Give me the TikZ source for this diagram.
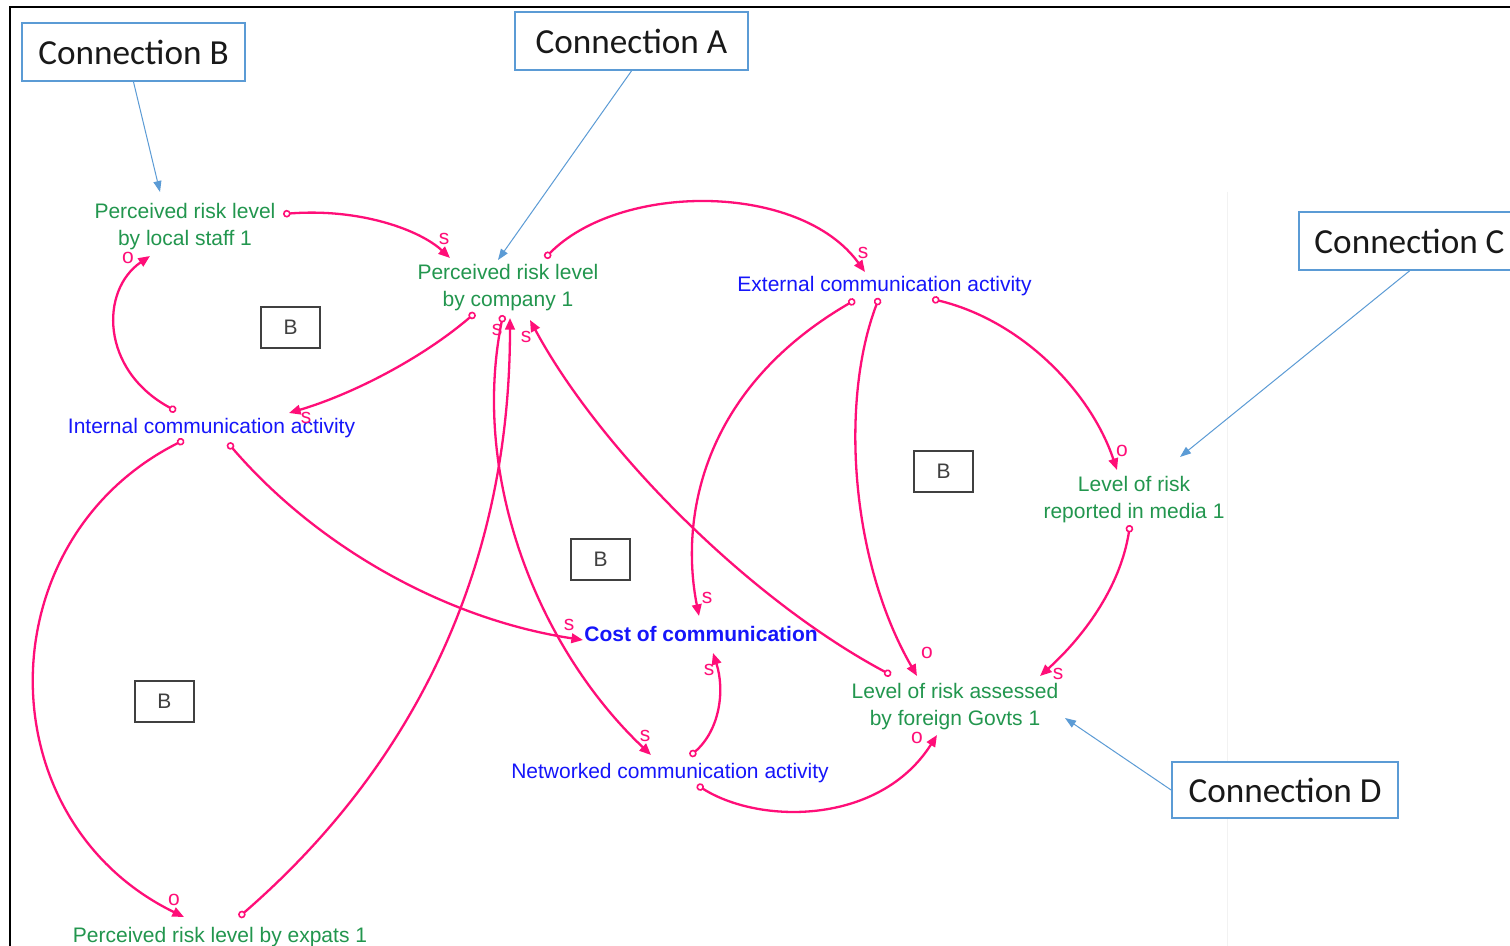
\documentclass[tikz,border=0pt]{standalone}
\usepackage{fontspec}
\setmainfont{Liberation Sans}
\newfontfamily\calfont{Carlito}
\usetikzlibrary{arrows.meta}
\definecolor{vgreen}{RGB}{34,150,78}
\definecolor{vblue}{RGB}{22,22,250}
\definecolor{lpink}{RGB}{255,14,120}
\definecolor{cblue}{RGB}{91,155,213}
\definecolor{bgray}{RGB}{64,64,64}
\begin{document}
\begin{tikzpicture}[x=0.5pt,y=-0.5pt,
  every node/.style={inner sep=0pt,font=\fontsize{10.5}{13.5}\selectfont},
  stock/.style={text=vgreen,align=center},
  actv/.style={text=vblue,anchor=base},
  pol/.style={text=lpink,font=\fontsize{10.5}{12}\selectfont},
  link/.style={draw=lpink,line width=1.15pt,
    {Circle[open,length=3.8pt,line width=0.8pt]}-{Triangle[length=5.8pt,width=4.8pt]}},
  conn/.style={draw=cblue,line width=0.9pt,fill=white,
    font=\calfont\fontsize{17.6}{20}\selectfont,text=black!90},
  callout/.style={draw=cblue,line width=0.5pt,-{Triangle[length=5.5pt,width=4pt]}},
  loopbox/.style={draw=bgray,line width=0.6pt,minimum width=29.5pt,
    minimum height=20.5pt,text=bgray}]

% canvas and frame
\fill[white] (0,0) rectangle (1510,946);
\clip (0,0) rectangle (1510,946);
\draw[black!5,line width=0.5pt] (1227,192) -- (1227,946);
\draw[black,line width=1pt] (9.5,946) -- (9.5,7) -- (1510,7);

% variables
\node[stock] (staff) at (185,227) {Perceived risk level\\by local staff 1};
\node[stock] (company) at (508,288) {Perceived risk level\\by company 1};
\node[stock] (media) at (1134,500) {Level of risk\\reported in media 1};
\node[stock] (govts) at (955,707) {Level of risk assessed\\by foreign Govts 1};
\node[stock,anchor=base] (expats) at (220,942) {Perceived risk level by expats 1};
\node[actv] (ext) at (884.5,292) {External communication activity};
\node[actv] (int) at (211.5,434) {Internal communication activity};
\node[actv,font=\bfseries\fontsize{10.5}{13.5}\selectfont] (cost) at (701,641) {Cost of communication};
\node[actv] (net) at (670,778) {Networked communication activity};

% loop markers
\node[loopbox] (b1) at (290.5,327.5) {B};
\node[loopbox] (b2) at (943.5,471.5) {B};
\node[loopbox] (b3) at (600.5,559.5) {B};
\node[loopbox] (b4) at (164.5,701.5) {B};

% causal links
\draw[link] ([shift={(98,-13)}]staff.center) .. controls +(77,-6) and +(-30,-28) .. ([shift={(-58,-30)}]company.center);
\draw[link] ([shift={(-35.5,-23)}]int.base) .. controls +(-76,-41) and +(-50,34) .. ([shift={(-35,29)}]staff.center);
\draw[link] ([shift={(-33,25)}]company.center) .. controls +(-55,47) and +(61,-18) .. ([shift={(77.5,-21)}]int.base);
\draw[link] ([shift={(37,-30)}]company.center) .. controls +(75,-76) and +(-65,-90) .. ([shift={(-19.5,-20)}]ext.base);
\draw[link] ([shift={(-29.5,8)}]ext.base) .. controls +(-155,90) and +(-19,-96) .. ([shift={(-2,-25)}]cost.base);
\draw[link] ([shift={(-5.5,6)}]ext.base) .. controls +(-39,102) and +(-67,-116) .. ([shift={(-38,-31)}]govts.center);
\draw[link] ([shift={(47.5,7)}]ext.base) .. controls +(88,21) and +(-27,-80) .. ([shift={(-17,-30)}]media.center);
\draw[link] ([shift={(-4,25)}]media.center) .. controls +(-10,65) and +(40,-36) .. ([shift={(85,-31)}]govts.center);
\draw[link] ([shift={(-64,-32)}]govts.center) .. controls +(-141,-75) and +(70,130) .. ([shift={(22,32)}]company.center);
\draw[link] ([shift={(-5,27)}]company.center) .. controls +(-33,165) and +(-111,-105) .. ([shift={(-19,-23)}]net.base);
\draw[link] ([shift={(19,-25)}]expats.base) .. controls +(181,-157) and +(0,242) .. ([shift={(2,30)}]company.center);
\draw[link] ([shift={(-27.5,6)}]int.base) .. controls +(-199,100) and +(-199,-97) .. ([shift={(-36,-25)}]expats.base);
\draw[link] ([shift={(16.5,9)}]int.base) .. controls +(92,107) and +(-133,-20) .. ([shift={(-118,-1)}]cost.base);
\draw[link] ([shift={(20,-22)}]net.base) .. controls +(30,-26) and +(12,37) .. ([shift={(12,12)}]cost.base);
\draw[link] ([shift={(27,7)}]net.base) .. controls +(63,40) and +(-57,90) .. ([shift={(-18,28)}]govts.center);

% polarity labels
\node[pol] (p1) at (444,239) {s};
\node[pol] (p2) at (128,258) {o};
\node[pol] (p3) at (306,418) {s};
\node[pol] (p4) at (863,253) {s};
\node[pol] (p5) at (707,598) {s};
\node[pol] (p6) at (927,653) {o};
\node[pol] (p7) at (1122,451) {o};
\node[pol] (p8) at (1058,674) {s};
\node[pol] (p9) at (526,337) {s};
\node[pol] (p10) at (645,736) {s};
\node[pol] (p11) at (497,330) {s};
\node[pol] (p12) at (174,900) {o};
\node[pol] (p13) at (569,625) {s};
\node[pol] (p14) at (709,670) {s};
\node[pol] (p15) at (917,738) {o};

% connection callouts
\node[conn,minimum width=111.5pt,minimum height=29pt] (cB) at (133.5,52) {Connection B};
\node[conn,minimum width=116.5pt,minimum height=29pt] (cA) at (631.5,41) {Connection A};
\node[conn,minimum width=110.5pt,minimum height=29pt] (cC) at (1409.5,241) {Connection C};
\node[conn,minimum width=113pt,minimum height=28pt] (cD) at (1285,790) {Connection D};
\coordinate (tB) at (160,192);
\coordinate (tA) at (498,260);
\coordinate (tC) at (1180,457);
\coordinate (tD) at (1065,718);
\draw[callout] (cB.south) -- (tB);
\draw[callout] (cA.south) -- (tA);
\draw[callout] (cC.south) -- (tC);
\draw[callout] (cD.west) -- (tD);
\end{tikzpicture}
\end{document}
